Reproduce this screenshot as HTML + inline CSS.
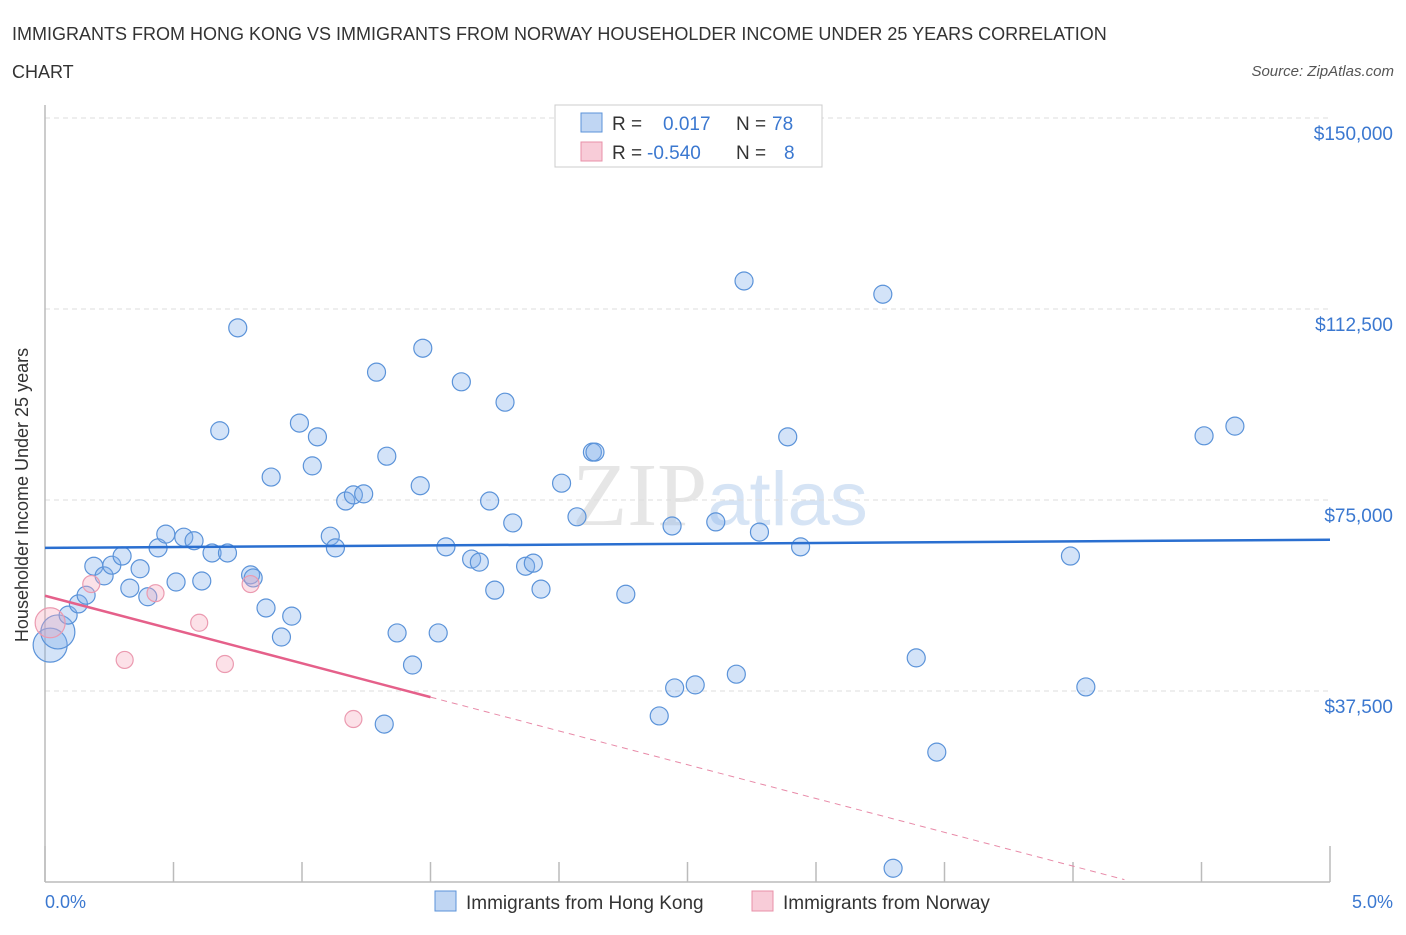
<!DOCTYPE html>
<html><head><meta charset="utf-8"><style>
body{margin:0;background:#fff;font-family:"Liberation Sans",sans-serif;}
</style></head><body>
<svg width="1406" height="930" viewBox="0 0 1406 930" xmlns="http://www.w3.org/2000/svg">
<text x="12" y="40" font-size="18" fill="#333">IMMIGRANTS FROM HONG KONG VS IMMIGRANTS FROM NORWAY HOUSEHOLDER INCOME UNDER 25 YEARS CORRELATION</text>
<text x="12" y="78" font-size="18" fill="#333">CHART</text>
<text x="1394" y="76" font-size="15" fill="#555" font-style="italic" text-anchor="end">Source: ZipAtlas.com</text>
<text x="720" y="525" font-size="90" fill="#e6e6e6" text-anchor="middle" font-family="Liberation Serif,serif">ZIP<tspan fill="#d6e4f5" font-family="Liberation Sans,sans-serif" font-size="76">atlas</tspan></text>
<g id="grid"></g>
<line x1="45" y1="105" x2="45" y2="882" stroke="#bbb" stroke-width="1.5"/>
<line x1="45" y1="882" x2="1330" y2="882" stroke="#bbb" stroke-width="1.5"/>
<g id="ticks"></g>
<text x="28" y="495" font-size="18" fill="#333" text-anchor="middle" transform="rotate(-90 28 495)">Householder Income Under 25 years</text>
<text x="45" y="908" font-size="18" fill="#3b78d0">0.0%</text>
<text x="1393" y="908" font-size="18" fill="#3b78d0" text-anchor="end">5.0%</text>
<g id="pts"></g>
<g id="lines"></g>
<g>
<rect x="555" y="105" width="267" height="62" fill="#fff" stroke="#ccc"/>
<rect x="581" y="113" width="21" height="19" fill="#c0d6f3" stroke="#5b93d9"/>
<text x="612" y="130" font-size="19" fill="#333">R = </text><text x="663" y="130" font-size="19" fill="#3b78d0">0.017</text>
<text x="736" y="130" font-size="19" fill="#333">N = </text><text x="772" y="130" font-size="19" fill="#3b78d0">78</text>
<rect x="581" y="142" width="21" height="19" fill="#f8ccd8" stroke="#e890a8"/>
<text x="612" y="159" font-size="19" fill="#333">R = </text><text x="647" y="159" font-size="19" fill="#3b78d0">-0.540</text>
<text x="736" y="159" font-size="19" fill="#333">N = </text><text x="784" y="159" font-size="19" fill="#3b78d0">8</text>
</g>
<g>
<rect x="435" y="891" width="21" height="20" fill="#c0d6f3" stroke="#5b93d9"/>
<text x="466" y="909" font-size="19" fill="#333">Immigrants from Hong Kong</text>
<rect x="752" y="891" width="21" height="20" fill="#f8ccd8" stroke="#e890a8"/>
<text x="783" y="909" font-size="19" fill="#333">Immigrants from Norway</text>
</g>
</svg>
<script>
const NS="http://www.w3.org/2000/svg";
const yTicks=[37500,75000,112500,150000];
const yTickLabels=["$37,500","$75,000","$112,500","$150,000"];
const xTicks=[0,0.5,1,1.5,2,2.5,3,3.5,4,4.5,5];
const hkX=[0.02,0.05,0.09,0.13,0.16,0.19,0.23,0.26,0.30,0.33,0.37,0.40,0.44,0.47,0.51,0.54,0.58,0.61,0.65,0.68,0.71,0.75,0.80,0.81,0.86,0.88,0.92,0.96,0.99,1.04,1.06,1.11,1.13,1.17,1.20,1.24,1.29,1.32,1.33,1.37,1.43,1.46,1.47,1.53,1.56,1.62,1.66,1.69,1.73,1.75,1.79,1.82,1.87,1.90,1.93,2.01,2.07,2.13,2.14,2.26,2.39,2.44,2.45,2.53,2.61,2.69,2.72,2.78,2.89,2.94,3.26,3.30,3.39,3.47,3.99,4.05,4.51,4.63];
const hkY=[46.5,49.1,52.4,54.6,56.3,62.0,60.1,62.2,64.0,57.7,61.5,56.0,65.6,68.3,58.9,67.7,67.0,59.1,64.6,88.6,64.6,108.8,60.3,59.7,53.8,79.5,48.1,52.2,90.1,81.7,87.4,67.9,65.6,74.8,76.0,76.2,100.1,31.0,83.6,48.9,42.6,77.8,104.8,48.9,65.8,98.2,63.4,62.8,74.8,57.3,94.2,70.5,62.0,62.6,57.5,78.3,71.7,84.4,84.4,56.5,32.6,69.9,38.1,38.7,70.7,40.8,118.0,68.7,87.4,65.8,115.4,2.7,44.0,25.5,64.0,38.3,87.6,89.5];
const noX=[0.02,0.18,0.31,0.43,0.60,0.70,0.80,1.20];
const noY=[50.9,58.5,43.6,56.7,50.9,42.8,58.5,32.0];
const hkTrend=[65.6,67.2];
const noTrend=[56.2,-13.27];
const sx=p=>45+p*257;
const sy=v=>882-v*1000*191/37500;
function mk(tag,attrs,parent){const e=document.createElementNS(NS,tag);for(const k in attrs)e.setAttribute(k,attrs[k]);parent.appendChild(e);return e;}
const grid=document.getElementById('grid'),ticks=document.getElementById('ticks'),pts=document.getElementById('pts'),lines=document.getElementById('lines');
yTicks.forEach((v,i)=>{
 const l=mk('line',{x1:45,x2:1330,y1:sy(v/1000),y2:sy(v/1000),stroke:'#ddd','stroke-dasharray':'5,4'},grid);
 
 
 const t=mk('text',{x:1393,y:sy(v/1000)+22,'font-size':19,fill:'#3b78d0','text-anchor':'end'},ticks);
 t.textContent=yTickLabels[i];
 
 
});
xTicks.forEach(p=>{
 const l=mk('line',{x1:sx(p),x2:sx(p),y1:(p==0||p==5)?846:862,y2:882,stroke:'#bbb','stroke-width':1.5},ticks);
 
 
});
hkX.forEach((x,i)=>{
 const big=i<2;
 const c=mk('circle',{cx:sx(x),cy:sy(hkY[i]),r:big?17:9,fill:'rgba(130,175,235,0.35)',stroke:'#5b93d9','stroke-width':1.2},pts);
 
 
});
noX.forEach((x,i)=>{
 const c=mk('circle',{cx:sx(x),cy:sy(noY[i]),r:i==0?15:8.5,fill:'rgba(245,170,190,0.35)',stroke:'#eb9ab0','stroke-width':1.2},pts);
 
 
});
const hl=mk('line',{x1:sx(0),y1:sy(hkTrend[0]),x2:sx(5),y2:sy(hkTrend[1]),stroke:'#2a6fd0','stroke-width':2.5},lines);


const nv=p=>noTrend[0]+noTrend[1]*p;
const nl=mk('line',{x1:sx(0),y1:sy(nv(0)),x2:sx(1.5),y2:sy(nv(1.5)),stroke:'#e5608a','stroke-width':2.5},lines);


const nd=mk('line',{x1:sx(1.5),y1:sy(nv(1.5)),x2:sx(4.2),y2:sy(nv(4.2)),stroke:'#e88aa8','stroke-width':1,'stroke-dasharray':'6,5'},lines);


</script>
</body></html>
